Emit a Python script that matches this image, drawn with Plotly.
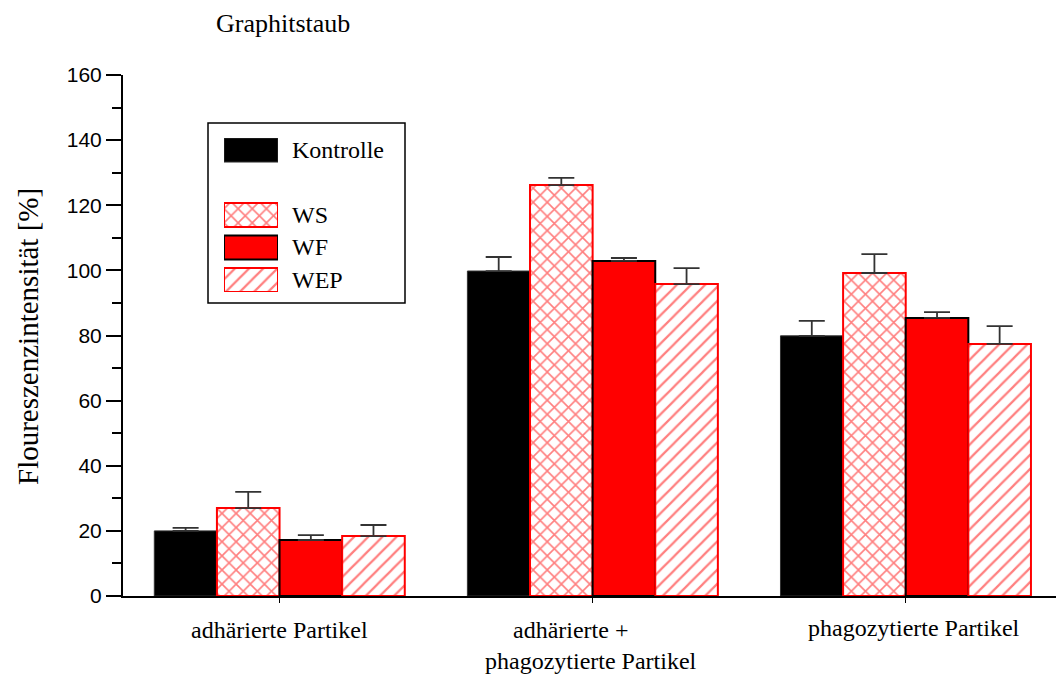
import plotly.graph_objects as go

categories = ["adhärierte Partikel", "adhärierte + phagozytierte Partikel", "phagozytierte Partikel"]
series_names = ["Kontrolle", "WS", "WF", "WEP"]
kontrolle = [20.0, 99.8, 79.9]
kontrolle_err = [0.9, 4.3, 4.6]
ws = [27.0, 126.2, 99.2]
ws_err = [5.0, 2.2, 5.8]
wf = [17.2, 102.9, 85.4]
wf_err = [1.5, 0.9, 1.8]
wep = [18.4, 95.8, 77.4]
wep_err = [3.4, 4.9, 5.5]

values = [kontrolle, ws, wf, wep]
errors = [kontrolle_err, ws_err, wf_err, wep_err]

SERIF = "Liberation Serif"
SANS = "Liberation Sans"

styles = [
    dict(color="black", line=dict(color="#333333", width=1)),
    dict(color="white", line=dict(color="red", width=2),
         pattern=dict(shape="x", fgcolor="red", bgcolor="white", size=10, solidity=0.3)),
    dict(color="red", line=dict(color="black", width=2)),
    dict(color="white", line=dict(color="red", width=2),
         pattern=dict(shape="/", fgcolor="red", bgcolor="white", size=10, solidity=0.22)),
]

xs = [0, 1, 2]
fig = go.Figure()
for name, v, e, st in zip(series_names, values, errors, styles):
    fig.add_trace(go.Bar(
        x=xs, y=v, name=name, marker=st, showlegend=False,
        error_y=dict(type="data", array=e, arrayminus=[0] * len(e), symmetric=False,
                     color="#333333", thickness=1.8, width=13),
    ))

# custom legend swatches drawn in an inset axis
legend_rows = [0, 2, 3, 4]
for name, st, r in zip(series_names, styles, legend_rows):
    fig.add_trace(go.Bar(
        x=[1], y=[r], orientation="h", marker=st, width=0.74, showlegend=False,
        xaxis="x2", yaxis="y2", hoverinfo="skip",
    ))
    fig.add_annotation(x=0, y=r, xref="x2", yref="y2", text=name, showarrow=False,
                       xanchor="left", yanchor="middle", xshift=66,
                       font=dict(family=SERIF, size=24, color="black"))

W, H = 1056, 678
L, R, T, B = 123, 0, 75, 82
pw, ph = W - L - R, H - T - B

def px(x):
    return (x - L) / pw

def py(y):
    return (H - B - y) / ph

fig.add_shape(type="rect", xref="paper", yref="paper",
              x0=px(208), x1=px(405), y0=py(303), y1=py(123),
              line=dict(color="black", width=1.5), fillcolor="rgba(0,0,0,0)")

fig.update_layout(
    width=W, height=H,
    margin=dict(l=L, r=R, t=T, b=B),
    plot_bgcolor="white", paper_bgcolor="white",
    barmode="group", bargap=0.2, bargroupgap=0,
    xaxis=dict(range=[-0.5, 2.48], tickvals=xs, ticktext=["", "", ""], ticks="outside",
               ticklen=5, tickcolor="black", showline=True, linecolor="black", linewidth=2,
               showgrid=False, zeroline=False),
    yaxis=dict(range=[0, 160], tickvals=list(range(0, 161, 20)), ticks="outside", ticklen=15,
               tickwidth=2, tickcolor="black", showline=True, linecolor="black", linewidth=2,
               showgrid=False, zeroline=False,
               tickfont=dict(family=SANS, size=21, color="black"),
               minor=dict(dtick=10, ticks="outside", ticklen=9, tickwidth=2, tickcolor="black")),
    xaxis2=dict(domain=[px(224), px(278)], range=[0, 1], visible=False, anchor="y2"),
    yaxis2=dict(domain=[py(292), py(138)], range=[4.37, -0.37], visible=False, anchor="x2"),
    showlegend=False,
)

# title and axis title
fig.add_annotation(x=px(283), y=py(24), xref="paper", yref="paper", text="Graphitstaub",
                   xanchor="center", yanchor="middle",
                   showarrow=False, font=dict(family=SERIF, size=26, color="black"))
fig.add_annotation(x=px(28), y=py(337), xref="paper", yref="paper", text="Floureszenzintensität [%]",
                   xanchor="center", yanchor="middle",
                   textangle=-90, showarrow=False, font=dict(family=SERIF, size=29, color="black"))

# category labels
cat_lines = [("adhärierte Partikel", 0, 0, 630), ("adhärierte +", 1, -22, 630),
             ("phagozytierte Partikel", 1, -2, 661), ("phagozytierte Partikel", 2, 8, 628)]
for txt, xi, shift, yy in cat_lines:
    fig.add_annotation(x=xi, y=py(yy), xref="x", yref="paper", text=txt, xshift=shift,
                       xanchor="center", yanchor="middle",
                       showarrow=False, font=dict(family=SERIF, size=24, color="black"))

fig.write_html("out.html")
